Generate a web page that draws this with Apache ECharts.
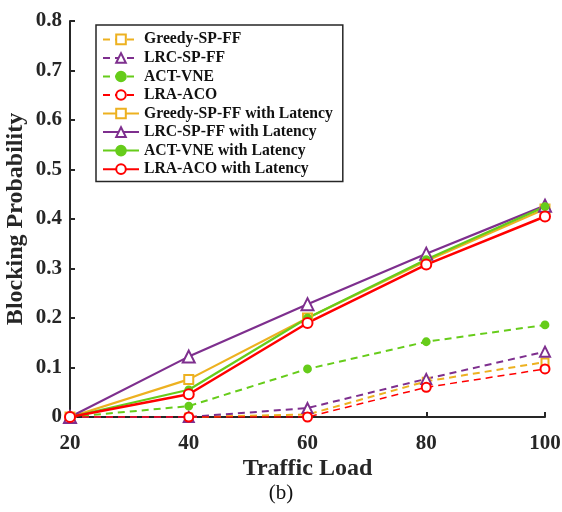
<!DOCTYPE html>
<html style="height: 100%">
<head>
<script src="https://cdn.jsdelivr.net/npm/echarts@6.0.0/dist/echarts.min.js"></script>
</head>
<body style="height: 100%; margin: 0; background: #fff">
<div id="target" style="width: 562px; height: 512px"></div>
<script>
// x values (traffic load)
const loads = [20, 40, 60, 80, 100];

// blocking probability
const greedy     = [0, 0, 0.005, 0.072, 0.111];
const lrc        = [0, 0, 0.018, 0.077, 0.132];
const act        = [0, 0.022, 0.097, 0.152, 0.186];
const lra        = [0, 0, 0, 0.060, 0.097];
const greedyLat  = [0, 0.076, 0.200, 0.315, 0.420];
const lrcLat     = [0, 0.122, 0.228, 0.330, 0.427];
const actLat     = [0, 0.055, 0.200, 0.318, 0.425];
const lraLat     = [0, 0.046, 0.190, 0.308, 0.405];

const seriesNames = [
    "Greedy-SP-FF", "LRC-SP-FF", "ACT-VNE", "LRA-ACO",
    "Greedy-SP-FF with Latency", "LRC-SP-FF with Latency",
    "ACT-VNE with Latency", "LRA-ACO with Latency",
];

const ORANGE = "#EDB120";
const PURPLE = "#7E2F8E";
const GREEN  = "#66CC1A";
const RED    = "#FF0000";
const FONT   = "'Liberation Serif', 'DejaVu Serif', serif";

let pairs = (ys) => loads.map((x, i) => [x, ys[i]]);

let MakeSeries = (name, ys, color, symbol, size, dashed, width) => ({
    name: name,
    type: "line",
    data: pairs(ys),
    symbol: symbol,
    symbolSize: size,
    showAllSymbol: true,
    lineStyle: { color: color, width: width, type: dashed ? [7, 5] : "solid" },
    itemStyle: { color: color, borderColor: color, borderWidth: 1.8 },
    emphasis: { disabled: true },
});

let chart = echarts.init(document.getElementById("target"));

let option = {
    animation: false,
    backgroundColor: "#fff",
    grid: { left: 70, right: 17, top: 21, bottom: 95, containLabel: false, outerBoundsMode: "none" },
    legend: {
        left: 96,
        top: 25,
        orient: "vertical",
        backgroundColor: "#fff",
        borderColor: "#262626",
        borderWidth: 1.5,
        padding: [2, 10, 0, 6],
        itemGap: -6.3,
        itemWidth: 36,
        itemHeight: 12,
        textStyle: { fontFamily: FONT, fontWeight: "bold", fontSize: 15.7, lineHeight: 15.5, color: "#111" },
        data: seriesNames,
    },
    xAxis: {
        type: "value",
        min: 20,
        max: 100,
        interval: 20,
        name: "Traffic Load",
        nameLocation: "middle",
        nameGap: 33,
        nameMoveOverlap: false,
        nameTextStyle: { fontFamily: FONT, fontWeight: "bold", fontSize: 24, color: "#262626" },
        axisLine: { lineStyle: { color: "#262626", width: 2 } },
        axisTick: { inside: true, length: 5, lineStyle: { color: "#262626", width: 2 } },
        axisLabel: { fontFamily: FONT, fontWeight: "bold", fontSize: 21, color: "#262626", margin: 10 },
        splitLine: { show: false },
    },
    yAxis: {
        type: "value",
        min: 0,
        max: 0.8,
        interval: 0.1,
        name: "Blocking Probability",
        nameLocation: "middle",
        nameGap: 35,
        nameMoveOverlap: false,
        nameTextStyle: { fontFamily: FONT, fontWeight: "bold", fontSize: 24, color: "#262626" },
        axisLine: { show: true, lineStyle: { color: "#262626", width: 2 } },
        axisTick: { show: true, inside: true, length: 5, lineStyle: { color: "#262626", width: 2 } },
        axisLabel: {
            fontFamily: FONT, fontWeight: "bold", fontSize: 21, color: "#262626", margin: 8,
            formatter: v => v == 0 ? "0" : v.toFixed(1),
        },
        splitLine: { show: false },
    },
    graphic: [
        {
            type: "text",
            left: "center",
            top: 477,
            style: { text: "(b)", font: "21px " + FONT, fill: "#111" },
        },
    ],
    series: [
        MakeSeries(seriesNames[0], greedy, ORANGE, "emptyRect", 7, true, 2),
        MakeSeries(seriesNames[1], lrc, PURPLE, "emptyTriangle", 10, true, 2),
        MakeSeries(seriesNames[2], act, GREEN, "circle", 7, true, 2),
        MakeSeries(seriesNames[3], lra, RED, "emptyCircle", 9, true, 1.5),
        MakeSeries(seriesNames[4], greedyLat, ORANGE, "emptyRect", 9, false, 2.2),
        MakeSeries(seriesNames[5], lrcLat, PURPLE, "emptyTriangle", 12, false, 2.2),
        MakeSeries(seriesNames[6], actLat, GREEN, "circle", 7, false, 2.2),
        MakeSeries(seriesNames[7], lraLat, RED, "emptyCircle", 10, false, 2.5),
    ],
};

chart.setOption(option);
</script>
</body>
</html>
